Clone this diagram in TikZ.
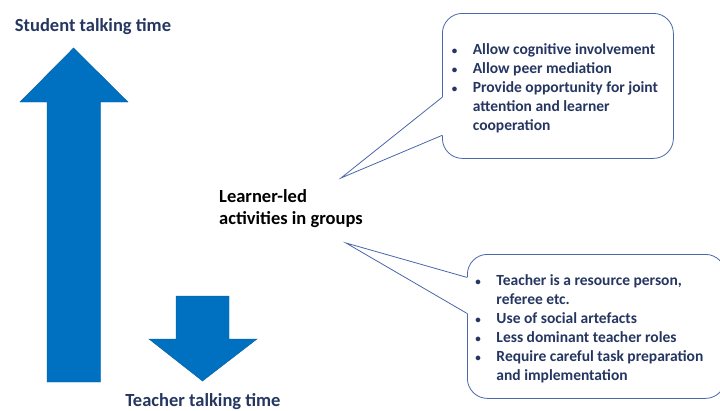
\documentclass[tikz,border=0pt]{standalone}
\usepackage{fontspec}
\setmainfont{Carlito}
\usetikzlibrary{positioning}
\definecolor{arrowblue}{HTML}{0070C0}
\definecolor{navytext}{HTML}{253661}
\definecolor{bubbleline}{HTML}{4A67AA}
\newcommand{\dotmark}{{\fontsize{11}{11}\selectfont\textbullet}}

\begin{document}
\begin{tikzpicture}[
  x=1pt, y=-1pt,
  font=\bfseries\fontsize{18.5}{22}\selectfont,
  heading/.style={
    text=navytext,
    inner sep=0pt
  },
  bubble/.style={
    draw=bubbleline,
    fill=white,
    line width=0.8pt,
    rounded corners=20pt,
    text=navytext,
    font=\bfseries\fontsize{15.5}{19}\selectfont,
    inner sep=0pt
  },
  pointer/.style={draw=bubbleline,line width=0.8pt,line join=miter},
  bigarrow/.style={fill=arrowblue,draw=arrowblue!85!black,line width=0.4pt}
]
  \useasboundingbox (0,0) rectangle (720,410);

  % Talking time arrows.
  \path[bigarrow] (47,382) -- (47,102) -- (20,102) -- (73.5,48) -- (128,102)
    -- (100.5,102) -- (100.5,382) -- cycle;
  \path[bigarrow] (176,296) -- (229,296) -- (229,339) -- (257,339) -- (202.5,381)
    -- (149,339) -- (176,339) -- cycle;

  \node[heading,anchor=base] (student) at (93,31) {Student talking time};
  \node[heading,anchor=base] (teacher) at (203,406) {Teacher talking time};
  \node[inner sep=0pt,align=left,anchor=west] (learner) at (219,209) {
    Learner-led\\activities in groups
  };

  % Speech bubbles.
  \node[bubble,anchor=north west,minimum width=231pt,minimum height=145pt] (goals) at (442,13) {%
    \hspace*{-3pt}\raisebox{-2.5pt}[\height][\depth]{%
    \begin{tabular}{@{}p{21pt}@{}l@{}}
      \dotmark & Allow cognitive involvement\\
      \dotmark & Allow peer mediation\\
      \dotmark & Provide opportunity for joint\\
               & attention and learner\\
               & cooperation
    \end{tabular}}\hspace*{3pt}%
  };
  \node[bubble,anchor=north west,minimum width=258pt,minimum height=144pt] (roles) at (467,254) {%
    \hspace*{-7pt}\raisebox{-2.5pt}[\height][\depth]{%
    \begin{tabular}{@{}p{21pt}@{}l@{}}
      \dotmark & Teacher is a resource person,\\
               & referee etc.\\
      \dotmark & Use of social artefacts\\
      \dotmark & Less dominant teacher roles\\
      \dotmark & Require careful task preparation\\
               & and implementation
    \end{tabular}}\hspace*{7pt}%
  };

  % Pointers from the bubbles to the activity label.
  \coordinate (goalstip) at (341,178);
  \coordinate (goalsA) at ([yshift=-11.5pt]goals.west);
  \coordinate (goalsB) at ([yshift=-49.5pt]goals.west);
  \coordinate (rolestip) at (346,243);
  \coordinate (rolesA) at ([yshift=49pt]roles.west);
  \coordinate (rolesB) at ([yshift=13pt]roles.west);

  \fill[white] (goalsA) -- (goalstip) -- (goalsB) -- ([xshift=1.5pt]goalsB) -- ([xshift=1.5pt]goalsA) -- cycle;
  \draw[pointer] (goalsA) -- (goalstip) -- (goalsB);
  \fill[white] (rolesA) -- (rolestip) -- (rolesB) -- ([xshift=1.5pt]rolesB) -- ([xshift=1.5pt]rolesA) -- cycle;
  \draw[pointer] (rolesA) -- (rolestip) -- (rolesB);
\end{tikzpicture}
\end{document}
